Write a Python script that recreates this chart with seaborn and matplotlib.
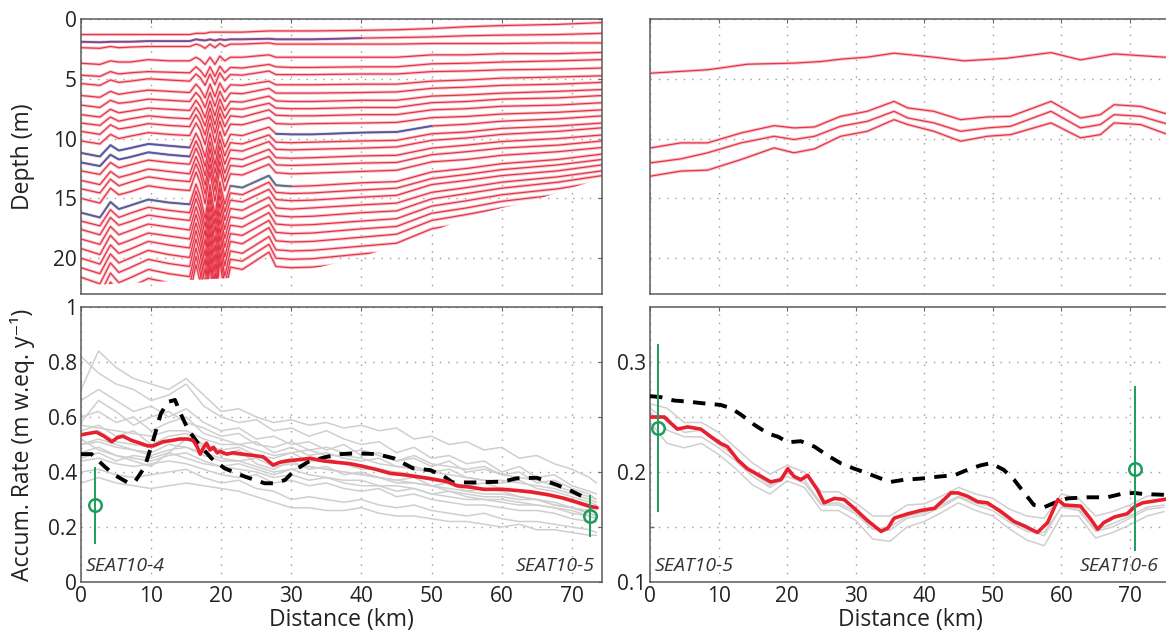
import numpy as np
import pandas as pd
import matplotlib
matplotlib.use("Agg")
import matplotlib.pyplot as plt
import seaborn as sns
from matplotlib.patches import Polygon
from matplotlib.ticker import FixedLocator, FixedFormatter

sns.set_theme(style="white")
plt.rcParams["font.family"] = ["Open Sans", "DejaVu Sans"]

# ---------------- top-left: radar layers (depth in m) ----------------
layer_km = [0, 2.7, 4.2, 5.4, 7, 9.6, 12.5, 15.5, 16.4, 17.0, 17.7, 18.4, 19.1, 19.8,
            20.5, 21.3, 23, 26.8, 27.8, 30, 33, 40, 45, 50, 55, 60, 68, 74.3]
layer_depths = [
    [1.3, 1.3, 1.3, 1.3, 1.3, 1.3, 1.3, 1.3, 1.2, 1.2, 1.2, 1.1, 1.1, 1.1, 1.1, 1.1, 1.1, 1.0, 1.0, 1.0, 1.0, 0.95, 0.9, 0.8, 0.65, 0.55, 0.45, 0.3],
    [1.9, 1.95, 1.9, 1.9, 1.9, 1.85, 1.85, 1.85, 1.7, 1.75, 1.8, 1.7, 1.8, 1.7, 1.75, 1.7, 1.7, 1.65, 1.7, 1.7, 1.7, 1.6, 1.55, 1.5, 1.4, 1.35, 1.3, 1.2],
    [2.4, 2.45, 2.3, 2.4, 2.35, 2.3, 2.3, 2.3, 2.1, 2.2, 2.45, 2.1, 2.4, 2.05, 2.3, 2.1, 2.1, 2.0, 2.1, 2.1, 2.1, 2.1, 2.1, 2.05, 2.05, 2.05, 2.0, 2.0],
    [3.7, 3.8, 3.5, 3.6, 3.6, 3.4, 3.5, 3.5, 3.2, 3.4, 3.8, 3.2, 3.8, 3.1, 3.5, 3.2, 3.2, 3.0, 3.2, 3.2, 3.2, 3.2, 3.2, 3.0, 3.0, 2.9, 2.9, 2.8],
    [4.7, 4.8, 4.4, 4.6, 4.5, 4.4, 4.45, 4.5, 4.0, 4.3, 4.85, 4.0, 4.8, 3.95, 4.5, 4.05, 4.1, 3.8, 4.0, 4.05, 4.05, 4.0, 4.0, 3.75, 3.7, 3.6, 3.5, 3.4],
    [5.4, 5.55, 5.1, 5.3, 5.2, 5.0, 5.1, 5.2, 4.6, 4.9, 5.55, 4.6, 5.5, 4.5, 5.15, 4.65, 4.7, 4.35, 4.65, 4.65, 4.65, 4.6, 4.6, 4.4, 4.35, 4.25, 4.2, 4.1],
    [6.4, 6.55, 6.05, 6.3, 6.15, 5.95, 6.05, 6.15, 5.45, 5.85, 6.6, 5.45, 6.5, 5.35, 6.1, 5.5, 5.55, 5.2, 5.5, 5.5, 5.5, 5.45, 5.45, 5.2, 5.1, 4.95, 4.85, 4.75],
    [7.2, 7.4, 6.8, 7.05, 6.95, 6.7, 6.8, 6.9, 6.15, 6.55, 7.4, 6.15, 7.3, 6.05, 6.9, 6.2, 6.25, 5.8, 6.2, 6.2, 6.2, 6.15, 6.1, 5.8, 5.7, 5.55, 5.45, 5.3],
    [8.0, 8.2, 7.55, 7.85, 7.7, 7.45, 7.55, 7.65, 6.8, 7.3, 8.25, 6.85, 8.1, 6.7, 7.65, 6.9, 6.95, 6.45, 6.85, 6.9, 6.9, 6.8, 6.8, 6.45, 6.35, 6.2, 6.05, 5.9],
    [8.7, 8.9, 8.2, 8.55, 8.35, 8.1, 8.25, 8.35, 7.4, 7.95, 8.95, 7.45, 8.85, 7.3, 8.3, 7.5, 7.55, 7.05, 7.45, 7.5, 7.5, 7.4, 7.4, 7.0, 6.9, 6.7, 6.6, 6.4],
    [9.4, 9.65, 8.85, 9.2, 9.05, 8.75, 8.9, 9.0, 8.0, 8.6, 9.7, 8.05, 9.55, 7.9, 9.0, 8.1, 8.2, 7.6, 8.05, 8.1, 8.1, 8.0, 8.0, 7.6, 7.5, 7.3, 7.2, 7.0],
    [10.2, 10.45, 9.65, 10.0, 9.8, 9.5, 9.65, 9.75, 8.7, 9.3, 10.5, 8.7, 10.35, 8.55, 9.75, 8.8, 8.85, 8.25, 8.75, 8.8, 8.75, 8.7, 8.65, 8.25, 8.15, 7.95, 7.8, 7.6],
    [11.2, 11.5, 10.55, 11.0, 10.8, 10.45, 10.6, 10.75, 9.55, 10.25, 11.55, 9.55, 11.35, 9.4, 10.7, 9.65, 9.75, 9.05, 9.6, 9.65, 9.65, 9.5, 9.45, 8.95, 8.8, 8.55, 8.35, 8.1],
    [12.0, 12.3, 11.35, 11.75, 11.55, 11.15, 11.35, 11.5, 10.2, 10.95, 12.35, 10.25, 12.2, 10.05, 11.45, 10.35, 10.45, 9.7, 10.3, 10.35, 10.3, 10.2, 10.15, 9.6, 9.45, 9.15, 8.95, 8.7],
    [12.7, 13.0, 12.0, 12.45, 12.2, 11.8, 12.0, 12.15, 10.8, 11.6, 13.1, 10.85, 12.9, 10.65, 12.15, 10.95, 11.05, 10.25, 10.9, 10.95, 10.9, 10.8, 10.7, 10.15, 9.95, 9.65, 9.4, 9.1],
    [13.5, 13.85, 12.75, 13.25, 13.0, 12.55, 12.75, 12.95, 11.5, 12.35, 13.9, 11.55, 13.7, 11.3, 12.9, 11.65, 11.75, 10.9, 11.6, 11.65, 11.6, 11.45, 11.4, 10.8, 10.55, 10.25, 10.0, 9.7],
    [14.2, 14.55, 13.4, 13.95, 13.65, 13.2, 13.45, 13.6, 12.1, 12.95, 14.65, 12.15, 14.4, 11.9, 13.6, 12.25, 12.35, 11.5, 12.2, 12.25, 12.2, 12.05, 12.0, 11.35, 11.1, 10.8, 10.55, 10.2],
    [15.0, 15.4, 14.15, 14.7, 14.45, 13.95, 14.2, 14.35, 12.8, 13.7, 15.45, 12.8, 15.25, 12.55, 14.35, 12.95, 13.05, 12.15, 12.85, 12.95, 12.9, 12.75, 12.65, 11.95, 11.75, 11.4, 11.1, 10.75],
    [16.2, 16.6, 15.3, 15.9, 15.6, 15.1, 15.35, 15.5, 13.8, 14.8, 16.7, 13.85, 16.45, 13.6, 15.5, 13.95, 14.1, 13.1, 13.9, 14.0, 13.95, 13.7, 13.6, 12.8, 12.5, 12.1, 11.75, 11.3],
    [16.9, 17.3, 15.95, 16.6, 16.25, 15.75, 16.0, 16.2, 14.4, 15.45, 17.4, 14.45, 17.15, 14.15, 16.15, 14.55, 14.7, 13.65, 14.5, 14.6, 14.55, 14.3, 14.15, 13.35, 13.0, 12.6, 12.2, 11.75],
    [17.6, 18.05, 16.6, 17.25, 16.95, 16.4, 16.65, 16.85, 15.0, 16.05, 18.15, 15.05, 17.85, 14.75, 16.85, 15.15, 15.3, 14.25, 15.1, 15.2, 15.15, 14.9, 14.75, 13.85, 13.5, 13.1, 12.7, 12.2],
    [18.4, 18.85, 17.35, 18.05, 17.7, 17.15, 17.4, 17.65, 15.7, 16.8, 18.95, 15.7, 18.7, 15.4, 17.6, 15.85, 16.0, 14.9, 15.8, 15.9, 15.8, 15.55, 15.4, 14.5, 14.1, 13.65, 13.2, 12.7],
    [19.2, 19.7, 18.1, 18.85, 18.5, 17.9, 18.15, 18.4, 16.35, 17.55, 19.8, 16.4, 19.5, 16.1, 18.35, 16.55, 16.7, 15.55, 16.45, 16.55, 16.5, 16.2, 16.05, 15.05, 14.6, 14.15, 13.65, 13.1],
    [20.0, 20.5, 18.9, 19.6, 19.25, 18.6, 18.9, 19.15, 17.05, 18.25, 20.6, 17.1, 20.3, 16.75, 19.1, 17.25, 17.4, 16.2, 17.15, 17.25, 17.2, 16.9, 16.7, 15.65, 15.2, 14.7, 14.2, 13.6],
    [20.8, 21.3, 19.65, 20.4, 20.0, 19.35, 19.7, 19.95, 17.7, 19.0, 21.4, 17.75, 21.1, 17.45, 19.9, 17.95, 18.1, 16.85, 17.85, 17.95, 17.9, 17.55, 17.35, 16.25, 15.8, 15.25, 14.7, 14.1],
    [21.6, 22.15, 20.4, 21.2, 20.8, 20.1, 20.45, 20.7, 18.4, 19.7, 22.25, 18.45, 21.9, 18.1, 20.65, 18.6, 18.8, 17.45, 18.55, 18.65, 18.6, 18.25, 18.0, 16.85, 16.35, 15.8, 15.25, 14.6],
    [22.5, 23.05, 21.25, 22.05, 21.65, 20.95, 21.3, 21.55, 19.15, 20.55, 23.2, 19.2, 22.85, 18.85, 21.5, 19.4, 19.6, 18.2, 19.3, 19.4, 19.35, 19.0, 18.75, 17.55, 17.05, 16.45, 15.9, 15.2],
    [23.3, 23.9, 22.0, 22.85, 22.45, 21.7, 22.05, 22.3, 19.85, 21.25, 24.0, 19.9, 23.65, 19.55, 22.25, 20.1, 20.25, 18.85, 20.0, 20.1, 20.05, 19.65, 19.4, 18.15, 17.6, 17.0, 16.4, 15.7],
    [24.1, 24.7, 22.75, 23.65, 23.2, 22.45, 22.8, 23.1, 20.55, 22.0, 24.8, 20.6, 24.45, 20.2, 23.05, 20.75, 20.95, 19.5, 20.7, 20.8, 20.75, 20.35, 20.05, 18.8, 18.2, 17.6, 16.95, 16.2],
]
# deepest depth reached by the radar data along the profile
limit_km = [0, 30, 33, 40, 45, 50, 55, 60, 64, 68, 74.3]
limit_depth = [22.3, 21.4, 20.9, 19.9, 18.9, 17.8, 16.6, 15.8, 15.3, 14.5, 13.3]
# layer segments picked in blue: (layer index, from km, to km, colour)
blue_segments = [(1, 0, 40, "#6d4f9e"), (12, 0, 15.5, "#3d63b0"), (12, 27.8, 50, "#3d63b0"),
                 (13, 0, 15.5, "#3d63b0"), (18, 0, 15.5, "#3d6aa8"), (18, 21.3, 30, "#3d7f99")]

# ---------------- top-right: radar layers ----------------
tr_km_a = [0.15, 8.3, 10.3, 14.2, 21.0, 24.9, 27.8, 31.7, 35.6, 41.4, 45.8, 52.1, 58.5, 62.8, 67.7, 74.9, 76]
tr_depth_a = [4.53, 4.25, 4.1, 3.78, 3.69, 3.56, 3.36, 3.19, 2.86, 3.19, 3.5, 3.28, 2.81, 3.42, 2.92, 3.19, 3.2]
tr_km_b = [0.1, 4.5, 8.4, 13.3, 18.1, 21.0, 24.0, 27.8, 31.7, 35.6, 37.6, 41.4, 45.3, 49.2, 52.6, 58.5, 62.8, 65.7, 67.7, 71.6, 74.9, 76]
tr_depth_b = [10.78, 10.36, 10.36, 9.53, 8.92, 9.11, 9.03, 8.14, 7.72, 6.89, 7.44, 7.72, 8.42, 8.19, 8.14, 6.89, 8.28, 8.0, 7.17, 7.31, 7.86, 8.0]
tr_depth_c = [12.03, 11.7, 11.19, 10.36, 9.81, 10.08, 9.81, 8.97, 8.56, 7.72, 8.28, 8.69, 9.39, 9.11, 8.97, 7.72, 9.11, 8.83, 8.0, 8.14, 8.69, 8.85]
tr_depth_d = [13.14, 12.72, 12.64, 11.75, 10.78, 11.19, 10.86, 9.81, 9.39, 8.42, 8.83, 9.39, 10.22, 9.81, 9.67, 8.69, 9.94, 9.67, 8.69, 8.83, 9.53, 9.7]

# ---------------- bottom-left: accumulation SEAT10-4 -> SEAT10-5 ----------------
bl_mean_km = [0, 1, 2.2, 3.3, 4.4, 5.2, 6.0, 7.2, 8.4, 9.5, 10.3, 11.7, 13, 14.1, 15.2, 16.0, 16.6, 17.0,
              17.5, 17.9, 18.4, 18.9, 19.4, 19.8, 20.8, 21.7, 23, 24.6, 26.0, 27.4, 28.3, 29.3, 31.2,
              32.7, 34.6, 36.5, 38.4, 40.3, 42, 44.1, 46, 47.9, 50, 52.2, 53.6, 55.5, 57.4, 60.2, 62,
              64.1, 66.5, 68.8, 70.5, 72.6, 73.6]
bl_mean_rate = [0.535, 0.54, 0.545, 0.53, 0.51, 0.525, 0.53, 0.515, 0.505, 0.495, 0.495, 0.51, 0.515,
                0.52, 0.52, 0.515, 0.49, 0.465, 0.49, 0.505, 0.48, 0.49, 0.47, 0.475, 0.465, 0.47, 0.465,
                0.46, 0.455, 0.425, 0.435, 0.44, 0.445, 0.45, 0.44, 0.435, 0.43, 0.42, 0.41, 0.395, 0.39,
                0.383, 0.375, 0.365, 0.35, 0.345, 0.337, 0.337, 0.333, 0.328, 0.318, 0.305, 0.292, 0.275, 0.27]
bl_model_km = [0, 1.5, 3.4, 4.8, 6.7, 7.7, 9.1, 10.3, 11.4, 12.4, 13.4, 14.3, 15.3, 16.7, 18.6, 20.5,
               23.4, 26.2, 27.6, 29.1, 30.5, 32.4, 35, 37, 39.3, 42.2, 44.6, 47.4, 49.8, 51.7, 53, 56,
               60.2, 62.1, 65, 67.9, 70, 72.6]
bl_model_rate = [0.465, 0.465, 0.419, 0.389, 0.361, 0.365, 0.419, 0.516, 0.613, 0.655, 0.662, 0.607,
                 0.553, 0.504, 0.450, 0.413, 0.383, 0.359, 0.359, 0.371, 0.407, 0.437, 0.455, 0.465,
                 0.468, 0.465, 0.450, 0.413, 0.407, 0.385, 0.362, 0.362, 0.365, 0.377, 0.379, 0.353,
                 0.33, 0.298]
bl_runs_km = [0, 2.5, 5, 7.5, 10, 12.5, 15, 17.5, 20, 22.5, 25, 27.5, 30, 32.5, 35, 37.5, 40, 42.5,
              45, 47.5, 50, 52.5, 55, 57.5, 60, 62.5, 65, 67.5, 70, 72.5, 73.5]
bl_runs_rate = [
    [0.70, 0.84, 0.78, 0.74, 0.72, 0.70, 0.74, 0.68, 0.62, 0.63, 0.60, 0.58, 0.59, 0.57, 0.58, 0.56, 0.57, 0.55, 0.56, 0.52, 0.53, 0.50, 0.51, 0.48, 0.49, 0.45, 0.46, 0.43, 0.41, 0.38, 0.36],
    [0.82, 0.76, 0.72, 0.70, 0.66, 0.68, 0.72, 0.64, 0.60, 0.58, 0.59, 0.55, 0.56, 0.53, 0.55, 0.52, 0.50, 0.51, 0.47, 0.49, 0.45, 0.46, 0.43, 0.44, 0.40, 0.42, 0.38, 0.39, 0.35, 0.33, 0.32],
    [0.66, 0.70, 0.66, 0.62, 0.64, 0.60, 0.63, 0.58, 0.55, 0.56, 0.52, 0.53, 0.50, 0.51, 0.48, 0.50, 0.46, 0.47, 0.44, 0.45, 0.42, 0.44, 0.40, 0.41, 0.39, 0.40, 0.36, 0.37, 0.34, 0.32, 0.30],
    [0.60, 0.62, 0.58, 0.60, 0.55, 0.58, 0.60, 0.54, 0.52, 0.50, 0.51, 0.47, 0.49, 0.46, 0.47, 0.45, 0.44, 0.45, 0.42, 0.41, 0.40, 0.41, 0.38, 0.37, 0.36, 0.37, 0.34, 0.33, 0.31, 0.29, 0.28],
    [0.55, 0.57, 0.53, 0.55, 0.50, 0.53, 0.54, 0.50, 0.48, 0.49, 0.46, 0.45, 0.47, 0.44, 0.45, 0.43, 0.42, 0.41, 0.40, 0.39, 0.38, 0.36, 0.35, 0.36, 0.34, 0.33, 0.32, 0.31, 0.30, 0.28, 0.27],
    [0.50, 0.52, 0.50, 0.48, 0.47, 0.50, 0.49, 0.47, 0.45, 0.44, 0.45, 0.42, 0.43, 0.42, 0.41, 0.40, 0.39, 0.38, 0.37, 0.36, 0.35, 0.34, 0.33, 0.32, 0.32, 0.31, 0.30, 0.29, 0.27, 0.26, 0.25],
    [0.47, 0.49, 0.46, 0.45, 0.44, 0.46, 0.47, 0.44, 0.42, 0.43, 0.41, 0.39, 0.41, 0.39, 0.38, 0.37, 0.37, 0.35, 0.35, 0.34, 0.32, 0.33, 0.31, 0.30, 0.30, 0.29, 0.28, 0.27, 0.25, 0.24, 0.23],
    [0.44, 0.45, 0.43, 0.42, 0.43, 0.44, 0.43, 0.41, 0.39, 0.38, 0.39, 0.36, 0.37, 0.35, 0.36, 0.34, 0.33, 0.34, 0.31, 0.32, 0.30, 0.29, 0.28, 0.28, 0.27, 0.26, 0.26, 0.25, 0.23, 0.22, 0.22],
    [0.40, 0.41, 0.39, 0.38, 0.39, 0.40, 0.41, 0.38, 0.36, 0.37, 0.34, 0.33, 0.30, 0.31, 0.30, 0.29, 0.30, 0.28, 0.27, 0.28, 0.26, 0.25, 0.24, 0.25, 0.23, 0.22, 0.22, 0.21, 0.20, 0.19, 0.18],
    [0.36, 0.38, 0.36, 0.35, 0.34, 0.35, 0.36, 0.35, 0.34, 0.33, 0.31, 0.29, 0.27, 0.27, 0.26, 0.26, 0.27, 0.25, 0.24, 0.24, 0.23, 0.22, 0.22, 0.21, 0.20, 0.21, 0.19, 0.19, 0.18, 0.17, 0.17],
    [0.58, 0.66, 0.62, 0.57, 0.60, 0.62, 0.58, 0.56, 0.53, 0.54, 0.50, 0.49, 0.51, 0.48, 0.49, 0.47, 0.48, 0.46, 0.44, 0.46, 0.43, 0.42, 0.41, 0.42, 0.39, 0.38, 0.37, 0.35, 0.33, 0.31, 0.30],
    [0.52, 0.48, 0.46, 0.44, 0.42, 0.47, 0.52, 0.50, 0.46, 0.48, 0.43, 0.41, 0.44, 0.41, 0.42, 0.39, 0.40, 0.38, 0.37, 0.38, 0.35, 0.36, 0.33, 0.34, 0.33, 0.31, 0.30, 0.28, 0.27, 0.25, 0.24],
    [0.57, 0.56, 0.55, 0.54, 0.53, 0.55, 0.55, 0.52, 0.50, 0.50, 0.48, 0.46, 0.47, 0.48, 0.46, 0.46, 0.45, 0.43, 0.42, 0.42, 0.40, 0.39, 0.38, 0.37, 0.37, 0.36, 0.35, 0.34, 0.32, 0.30, 0.29],
    [0.50, 0.51, 0.49, 0.48, 0.46, 0.48, 0.49, 0.46, 0.44, 0.44, 0.42, 0.40, 0.41, 0.42, 0.41, 0.40, 0.39, 0.38, 0.36, 0.36, 0.35, 0.33, 0.32, 0.31, 0.31, 0.30, 0.30, 0.28, 0.27, 0.25, 0.24],
    [0.53, 0.55, 0.51, 0.50, 0.49, 0.51, 0.52, 0.49, 0.47, 0.46, 0.46, 0.43, 0.45, 0.44, 0.44, 0.43, 0.41, 0.41, 0.39, 0.39, 0.37, 0.36, 0.35, 0.34, 0.34, 0.33, 0.32, 0.31, 0.29, 0.27, 0.27],
    [0.45, 0.47, 0.44, 0.46, 0.45, 0.47, 0.45, 0.43, 0.42, 0.41, 0.40, 0.38, 0.39, 0.37, 0.38, 0.36, 0.35, 0.35, 0.33, 0.34, 0.32, 0.31, 0.30, 0.30, 0.29, 0.28, 0.28, 0.27, 0.26, 0.24, 0.23],
]
bl_core_km = [2.0, 72.6]
bl_core_rate = [0.28, 0.24]
bl_core_err = [0.14, 0.075]
bl_site_names = ["SEAT10-4", "SEAT10-5"]

# ---------------- bottom-right: accumulation SEAT10-5 -> SEAT10-6 ----------------
br_mean_km = [0.04, 2.1, 3.1, 4.0, 5.5, 7.4, 8.9, 10.3, 11.3, 12.8, 14.2, 16.2, 17.6, 19.1, 20.1, 21.0,
              22.0, 23.0, 24.4, 25.4, 26.9, 28.3, 29.8, 31.7, 33.7, 34.7, 35.6, 37.6, 39.5, 41.5, 42.9,
              43.9, 44.9, 46.3, 47.8, 49.2, 51.2, 53.1, 54.6, 56.5, 58.0, 59.5, 60.4, 62.8, 64.3, 65.3,
              66.2, 67.7, 69.6, 70.8, 71.9, 76]
br_mean_rate = [0.250, 0.250, 0.244, 0.239, 0.241, 0.239, 0.232, 0.226, 0.223, 0.211, 0.203, 0.196,
                0.191, 0.193, 0.203, 0.196, 0.193, 0.197, 0.184, 0.172, 0.176, 0.175, 0.167, 0.156,
                0.146, 0.149, 0.158, 0.162, 0.165, 0.167, 0.175, 0.181, 0.181, 0.178, 0.173, 0.172,
                0.164, 0.155, 0.151, 0.145, 0.154, 0.175, 0.170, 0.169, 0.157, 0.148, 0.154, 0.159,
                0.162, 0.169, 0.172, 0.176]
br_model_km = [0.0, 1.6, 3.5, 5.5, 8.4, 10.3, 11.8, 13.3, 15.2, 17.2, 18.7, 20.1, 22.0, 24.0, 25.9,
               27.8, 29.8, 31.2, 33.7, 35.1, 37.1, 39.5, 42.4, 44.4, 46.3, 48.2, 49.7, 51.6, 53.1,
               54.6, 56.0, 57.5, 59.0, 60.9, 63.8, 66.7, 68.7, 70.6, 72.0, 76]
br_model_rate = [0.269, 0.268, 0.265, 0.264, 0.262, 0.261, 0.258, 0.252, 0.243, 0.235, 0.232, 0.227,
                 0.228, 0.223, 0.215, 0.208, 0.203, 0.200, 0.194, 0.191, 0.193, 0.194, 0.196, 0.197,
                 0.202, 0.206, 0.208, 0.202, 0.193, 0.181, 0.170, 0.168, 0.172, 0.176, 0.177, 0.177,
                 0.180, 0.181, 0.180, 0.179]
br_runs_km = [0, 2.5, 5, 7.5, 10, 12.5, 15, 17.5, 20, 22.5, 25, 27.5, 30, 32.5, 35, 37.5, 40, 42.5,
              45, 47.5, 50, 52.5, 55, 57.5, 60, 62.5, 65, 67.5, 70, 72.5, 75]
br_runs_rate = [
    [0.262, 0.258, 0.245, 0.245, 0.236, 0.222, 0.208, 0.198, 0.206, 0.200, 0.182, 0.182, 0.172, 0.160, 0.160, 0.170, 0.171, 0.178, 0.186, 0.180, 0.176, 0.166, 0.160, 0.158, 0.180, 0.176, 0.160, 0.164, 0.170, 0.178, 0.180],
    [0.255, 0.238, 0.232, 0.232, 0.222, 0.210, 0.196, 0.186, 0.196, 0.190, 0.170, 0.170, 0.162, 0.148, 0.147, 0.158, 0.161, 0.168, 0.177, 0.170, 0.165, 0.154, 0.146, 0.145, 0.168, 0.165, 0.147, 0.153, 0.160, 0.168, 0.170],
    [0.245, 0.226, 0.222, 0.226, 0.216, 0.203, 0.188, 0.180, 0.192, 0.186, 0.165, 0.165, 0.156, 0.139, 0.137, 0.150, 0.155, 0.163, 0.172, 0.165, 0.160, 0.148, 0.138, 0.133, 0.160, 0.160, 0.140, 0.145, 0.152, 0.160, 0.164],
    [0.258, 0.246, 0.236, 0.238, 0.225, 0.214, 0.199, 0.188, 0.199, 0.193, 0.171, 0.172, 0.164, 0.148, 0.150, 0.160, 0.163, 0.170, 0.178, 0.172, 0.168, 0.156, 0.148, 0.142, 0.168, 0.167, 0.146, 0.150, 0.158, 0.166, 0.168],
]
br_core_km = [1.2, 70.8]
br_core_rate = [0.240, 0.203]
br_core_err = [0.076, 0.075]
br_site_names = ["SEAT10-5", "SEAT10-6"]

# ---------------- styling ----------------
RED = "#e8202e"
LAYER_RED = "#e63446"
HALO = "#f8c6cc"
GRAY = "#cfcfcf"
GREEN = "#1f9d5c"
SPINE = "#5a5a5a"
TEXT = "#222222"
W, H = 1166, 639
TICK_FS = 15
LABEL_FS = 16.5
SITE_FS = 14


def panel(left, top, width, height):
    return fig.add_axes([left / W, 1 - (top + height) / H, width / W, height / H])


def style(ax, xticks_labels=True):
    ax.set_facecolor("white")
    for s in ax.spines.values():
        s.set_color(SPINE)
        s.set_linewidth(1.1)
    ax.tick_params(direction="in", length=3, width=0.8, color="#666666", top=True, right=True,
                   labelsize=TICK_FS, labelcolor=TEXT, pad=3)
    ax.xaxis.set_major_locator(FixedLocator([0, 10, 20, 30, 40, 50, 60, 70]))
    if not xticks_labels:
        ax.tick_params(labelbottom=False)
    ax.grid(True, which="both", color="#9a9a9a", linestyle=(0, (1, 5)), linewidth=1.0)
    ax.set_axisbelow(True)


fig = plt.figure(figsize=(W / 100, H / 100), dpi=100)
ax_tl = panel(81, 19, 521, 275)
ax_tr = panel(650, 19, 521, 275)
ax_bl = panel(81, 307, 521, 275)
ax_br = panel(650, 307, 521, 275)

# ---- top-left layers ----
rows = []
for i, dep in enumerate(layer_depths):
    for k, d in zip(layer_km, dep):
        rows.append({"km": k, "depth": d, "layer": i})
df_layers = pd.DataFrame(rows)
sns.lineplot(data=df_layers, x="km", y="depth", units="layer", estimator=None, sort=False,
             color=HALO, lw=2.3, ax=ax_tl, legend=False)
sns.lineplot(data=df_layers, x="km", y="depth", units="layer", estimator=None, sort=False,
             color=LAYER_RED, lw=0.9, ax=ax_tl, legend=False)
for li, k0, k1, col in blue_segments:
    seg = df_layers[(df_layers.layer == li) & (df_layers.km >= k0) & (df_layers.km <= k1)]
    sns.lineplot(data=seg, x="km", y="depth", estimator=None, sort=False, color=col, lw=1.3,
                 ax=ax_tl, legend=False)
clip_verts = [(-5, -5), (90, -5), (90, limit_depth[-1])] + \
             [(k, d) for k, d in zip(limit_km[::-1], limit_depth[::-1])] + [(-5, limit_depth[0])]
clip_poly = Polygon(clip_verts, closed=True, transform=ax_tl.transData, facecolor="none", edgecolor="none")
for ln in ax_tl.lines:
    ln.set_clip_path(clip_poly)
ax_tl.set_xlim(0, 74.3)
ax_tl.set_ylim(23, 0)
style(ax_tl, xticks_labels=False)
ax_tl.yaxis.set_major_locator(FixedLocator([0, 5, 10, 15, 20]))
ax_tl.set_xlabel("")
ax_tl.set_ylabel("Depth (m)", fontsize=LABEL_FS, color=TEXT)
ax_tl.yaxis.set_label_coords(-0.088, 0.5)

# ---- top-right layers ----
for kms, deps in [(tr_km_a, tr_depth_a), (tr_km_b, tr_depth_b), (tr_km_b, tr_depth_c), (tr_km_b, tr_depth_d)]:
    sns.lineplot(x=kms, y=deps, estimator=None, sort=False, color=HALO, lw=2.3, ax=ax_tr)
    sns.lineplot(x=kms, y=deps, estimator=None, sort=False, color=LAYER_RED, lw=0.9, ax=ax_tr)
ax_tr.set_xlim(0, 76)
ax_tr.set_ylim(23, 0)
style(ax_tr, xticks_labels=False)
ax_tr.yaxis.set_major_locator(FixedLocator([0, 5, 10, 15, 20]))
ax_tr.tick_params(labelleft=False)


def accum_panel(ax, runs_km, runs_rate, model_km, model_rate, mean_km, mean_rate,
                core_km, core_rate, core_err):
    grows = []
    for i, r in enumerate(runs_rate):
        for k, v in zip(runs_km, r):
            grows.append({"km": k, "rate": v, "run": i})
    dfg = pd.DataFrame(grows)
    sns.lineplot(data=dfg, x="km", y="rate", units="run", estimator=None, sort=False,
                 color=GRAY, lw=1.1, ax=ax, legend=False, zorder=2)
    sns.lineplot(x=model_km, y=model_rate, estimator=None, sort=False, color="black", lw=2.8,
                 linestyle=(0, (3.2, 2.4)), ax=ax, zorder=3)
    sns.lineplot(x=mean_km, y=mean_rate, estimator=None, sort=False, color=RED, lw=2.6,
                 ax=ax, zorder=4)
    ax.errorbar(core_km, core_rate, yerr=core_err, fmt="o", ms=9, mfc="none", mec=GREEN,
                mew=1.8, ecolor=GREEN, elinewidth=1.4, capsize=0, zorder=5)
    ax.set_xlabel("Distance (km)", fontsize=LABEL_FS, color=TEXT)
    ax.xaxis.set_label_coords(0.5, -0.095)


accum_panel(ax_bl, bl_runs_km, bl_runs_rate, bl_model_km, bl_model_rate, bl_mean_km, bl_mean_rate,
            bl_core_km, bl_core_rate, bl_core_err)
ax_bl.set_xlim(0, 74.3)
ax_bl.set_ylim(0, 1)
style(ax_bl)
ax_bl.yaxis.set_major_locator(FixedLocator([0, 0.2, 0.4, 0.6, 0.8, 1.0]))
ax_bl.yaxis.set_major_formatter(FixedFormatter(["0", "0.2", "0.4", "0.6", "0.8", "1"]))
ax_bl.set_ylabel("Accum. Rate (m w.eq. y⁻¹)", fontsize=LABEL_FS, color=TEXT)
ax_bl.yaxis.set_label_coords(-0.088, 0.5)
ax_bl.text(0.6, 0.025, bl_site_names[0], style="italic", fontsize=SITE_FS, color="#333333", ha="left", va="bottom")
ax_bl.text(73.2, 0.025, bl_site_names[1], style="italic", fontsize=SITE_FS, color="#333333", ha="right", va="bottom")

accum_panel(ax_br, br_runs_km, br_runs_rate, br_model_km, br_model_rate, br_mean_km, br_mean_rate,
            br_core_km, br_core_rate, br_core_err)
ax_br.set_xlim(0, 76)
ax_br.set_ylim(0.1, 0.35)
style(ax_br)
ax_br.yaxis.set_major_locator(FixedLocator([0.1, 0.2, 0.3]))
ax_br.yaxis.set_major_formatter(FixedFormatter(["0.1", "0.2", "0.3"]))
ax_br.yaxis.set_minor_locator(FixedLocator([0.15, 0.25]))
ax_br.tick_params(which="minor", direction="in", length=3, left=True, right=True, color="#666666")
ax_br.set_ylabel("")
ax_br.text(0.7, 0.106, br_site_names[0], style="italic", fontsize=SITE_FS, color="#333333", ha="left", va="bottom")
ax_br.text(74.2, 0.106, br_site_names[1], style="italic", fontsize=SITE_FS, color="#333333", ha="right", va="bottom")

fig.savefig("out.png", dpi=100)
